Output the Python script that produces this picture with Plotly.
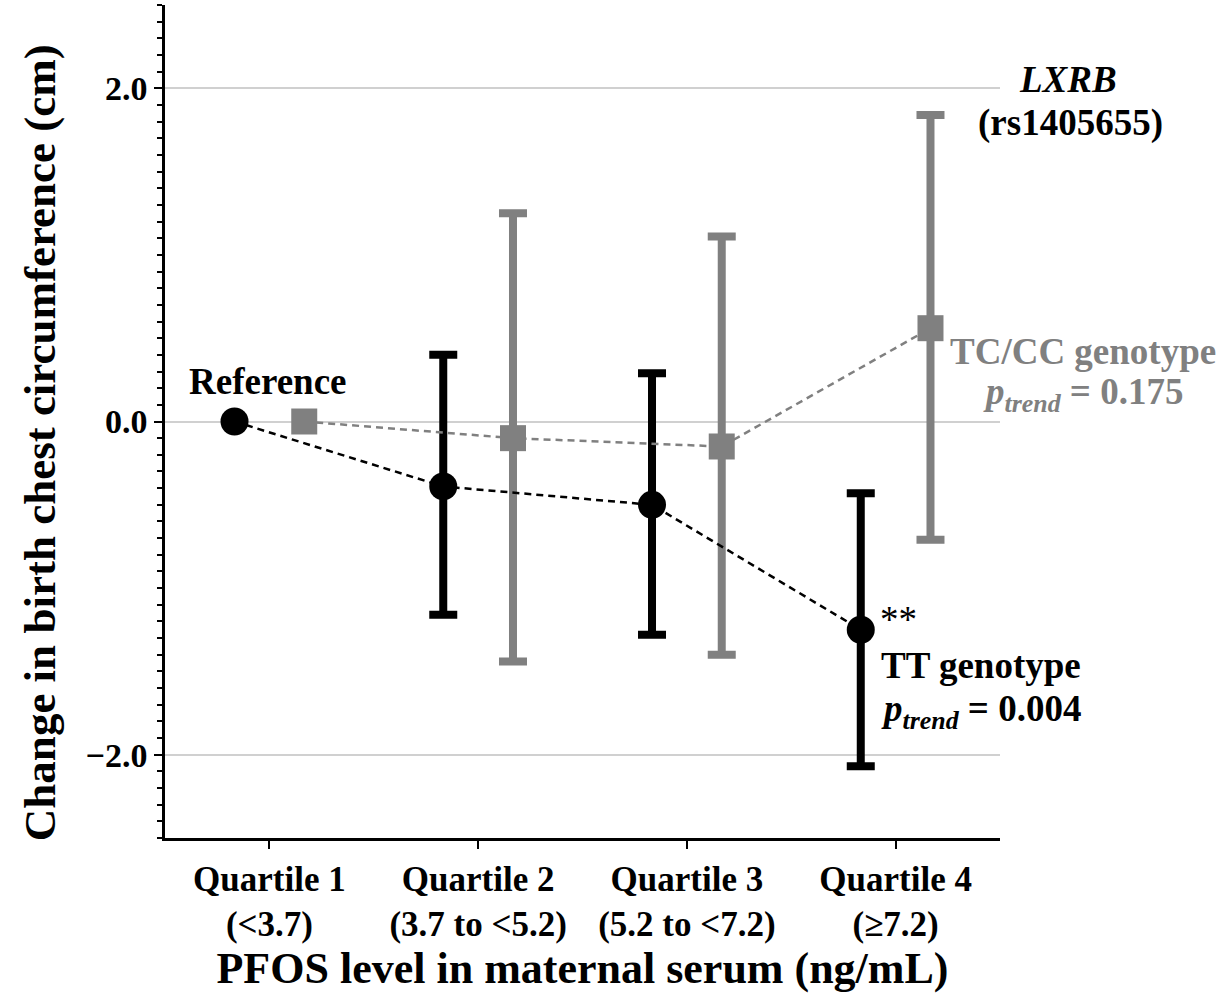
import plotly.graph_objects as go

# ---- data ----
quartiles = ["Quartile 1<br>(<3.7)", "Quartile 2<br>(3.7 to <5.2)", "Quartile 3<br>(5.2 to <7.2)", "Quartile 4<br>(≥7.2)"]
tt_est = [0.0, -0.39, -0.50, -1.25]
tt_upper = [None, 0.40, 0.29, -0.43]
tt_lower = [None, -1.16, -1.28, -2.07]
tc_est = [0.0, -0.10, -0.15, 0.56]
tc_upper = [None, 1.25, 1.11, 1.84]
tc_lower = [None, -1.44, -1.40, -0.71]
y_tickvals = [-2, 0, 2]
y_ticktext = ["\u22122.0", "0.0", "2.0"]
y_midticks = [-1, 1]

BLACK = "#000000"
GRAY = "#808080"
FONT = "Liberation Serif"
offset = 0.167

idx = list(range(len(quartiles)))
x_tt = [i - offset for i in idx]
x_tc = [i + offset for i in idx]

fig = go.Figure()


def err_trace(xs, est, up, lo, color):
    xs2, e2, plus, minus = [], [], [], []
    for x, e, u, l in zip(xs, est, up, lo):
        if u is None:
            continue
        xs2.append(x); e2.append(e); plus.append(u - e); minus.append(e - l)
    return go.Scatter(x=xs2, y=e2, mode="markers", marker=dict(size=1, opacity=0),
                      error_y=dict(type="data", symmetric=False, array=plus, arrayminus=minus,
                                   color=color, thickness=8, width=14),
                      showlegend=False, hoverinfo="skip")


fig.add_trace(err_trace(x_tt, tt_est, tt_upper, tt_lower, BLACK))
fig.add_trace(err_trace(x_tc, tc_est, tc_upper, tc_lower, GRAY))

fig.add_trace(go.Scatter(x=x_tt, y=tt_est, mode="lines+markers", name="TT genotype",
                         line=dict(color=BLACK, width=2.5, dash="7px,5px"),
                         marker=dict(symbol="circle", size=28, color=BLACK),
                         showlegend=False))
fig.add_trace(go.Scatter(x=x_tc, y=tc_est, mode="lines+markers", name="TC/CC genotype",
                         line=dict(color=GRAY, width=2.5, dash="7px,5px"),
                         marker=dict(symbol="square", size=26, color=GRAY),
                         showlegend=False))

fs = 37
px = lambda p: (p - 165) / 835.0  # paper x from pixel column
ann = [
    dict(x=px(268), y=0.24, text="<b>Reference</b>", color=BLACK, xanchor="center"),
    dict(x=px(878), y=-1.19, text="**", color=BLACK, xanchor="left"),
    dict(x=px(879), y=-1.465, text="<b>TT genotype</b>", color=BLACK, xanchor="left"),
    dict(x=px(879), y=-1.74, text="<b><i>p</i><sub><i>trend</i></sub> = 0.004</b>", color=BLACK, xanchor="left"),
    dict(x=px(1083), y=0.42, text="<b>TC/CC genotype</b>", color=GRAY, xanchor="center"),
    dict(x=px(1083), y=0.16, text="<b><i>p</i><sub><i>trend</i></sub> = 0.175</b>", color=GRAY, xanchor="center"),
    dict(x=px(1068), y=2.05, text="<b><i>LXRB</i></b>", color=BLACK, xanchor="center"),
    dict(x=px(1070), y=1.79, text="<b>(rs1405655)</b>", color=BLACK, xanchor="center"),
]
for a in ann:
    fig.add_annotation(x=a["x"], y=a["y"], xref="paper", yref="y", text=a["text"], showarrow=False,
                       xanchor=a["xanchor"], yanchor="middle",
                       font=dict(family=FONT, size=fs, color=a["color"]))

# y-axis title as annotation (positioned like the original)
fig.add_annotation(x=px(40), y=0.474, xref="paper", yref="paper",
                   text="<b>Change in birth chest circumference (cm)</b>",
                   textangle=-90, showarrow=False, font=dict(family=FONT, size=45, color=BLACK),
                   xanchor="center", yanchor="middle")

fig.update_layout(
    width=1225, height=996,
    margin=dict(l=165, r=225, t=5, b=158),
    plot_bgcolor="white", paper_bgcolor="white",
    font=dict(family=FONT, color=BLACK),
    xaxis=dict(range=[-0.5, 3.5], tickvals=idx, ticktext=["<b>" + q + "</b>" for q in quartiles],
               tickfont=dict(family=FONT, size=35, color=BLACK),
               showline=True, linecolor=BLACK, linewidth=2.5, ticks="outside", ticklen=8, tickwidth=2,
               tickcolor=BLACK, showgrid=False, zeroline=False,
               title=dict(text="<b>PFOS level in maternal serum (ng/mL)</b>",
                          font=dict(family=FONT, size=44, color=BLACK), standoff=4)),
    yaxis=dict(range=[-2.5, 2.5], tickvals=y_tickvals, ticktext=["<b>" + t + "</b>" for t in y_ticktext],
               tickfont=dict(family=FONT, size=34, color=BLACK),
               showline=True, linecolor=BLACK, linewidth=2.5, ticks="outside", ticklen=8, tickwidth=2,
               tickcolor=BLACK, showgrid=True, gridcolor="#d0d0d0", gridwidth=2, zeroline=False,
               minor=dict(dtick=0.1, tick0=0, ticks="outside", ticklen=5, tickwidth=2,
                          tickcolor=BLACK, showgrid=False)),
    yaxis2=dict(range=[-2.5, 2.5], overlaying="y", side="left", tickvals=y_midticks,
                showticklabels=False, ticks="outside", ticklen=8, tickwidth=2, tickcolor=BLACK,
                showline=False, showgrid=False, zeroline=False),
)

fig.write_html("out.html")
